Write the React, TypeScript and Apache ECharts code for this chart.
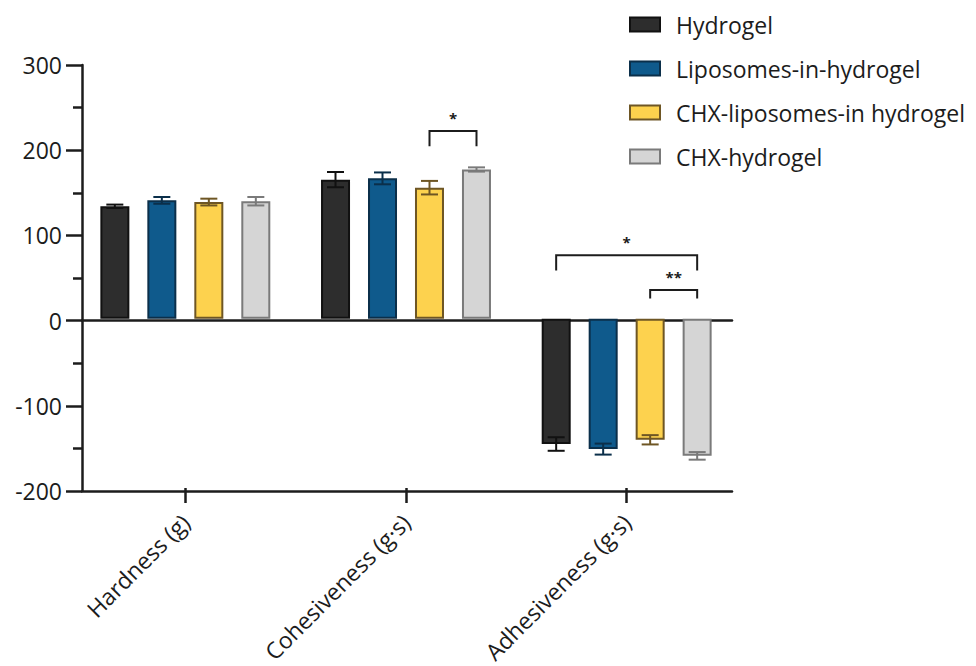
import React, { useEffect, useRef } from "react";
import * as echarts from "echarts";

// Texture profile parameters (rows of the x axis) and formulation groups
const categories = ["Hardness (g)", "Cohesiveness (g·s)", "Adhesiveness (g·s)"];
const groups = ["Hydrogel", "Liposomes-in-hydrogel", "CHX-liposomes-in hydrogel", "CHX-hydrogel"];

// Mean and standard deviation per group, one value per category
const hydrogelMean = [133, 164.5, -148];
const hydrogelSd = [2, 9, 8];
const liposomesMean = [140, 166, -154];
const liposomesSd = [4, 7, 6.5];
const chxLiposomesMean = [138, 155, -143];
const chxLiposomesSd = [4, 8, 5.5];
const chxHydrogelMean = [139, 176.5, -162];
const chxHydrogelSd = [5, 2.5, 4.5];

// Y axis range and step
const yMin = -200;
const yMax = 300;
const yStep = 100;

// Significance brackets: category, first group, second group, bracket level, leg end, marker
const bracketCategory = [1, 2, 2];
const bracketFrom = [2, 0, 2];
const bracketTo = [3, 3, 3];
const bracketTop = [222, 75, 34];
const bracketLeg = [204, 57, 24];
const bracketMark = ["*", "*", "**"];

const means = [hydrogelMean, liposomesMean, chxLiposomesMean, chxHydrogelMean];
const sds = [hydrogelSd, liposomesSd, chxLiposomesSd, chxHydrogelSd];

const FILLS = ["#2d2d2d", "#0f5a8c", "#fdd24e", "#d5d5d5"];
const EDGES = ["#111111", "#0b2f4a", "#6e5624", "#7a7a7a"];
const INK = "#1c1c1c";
const FONT = "'Open Sans', sans-serif";
const BAR_W = 29;
const PITCH = 47;
const CAP = 8.5;

export default function App() {
  const ref = useRef<HTMLDivElement>(null);

  useEffect(() => {
    if (!ref.current) return;
    const chart = echarts.init(ref.current, undefined, { renderer: "svg" });

    const barSeries = groups.map((name, k) => ({
      name,
      type: "bar",
      xAxisIndex: 1,
      yAxisIndex: 1,
      barWidth: BAR_W,
      barGap: "62%",
      z: 2,
      data: means[k],
      itemStyle: { color: FILLS[k], borderColor: EDGES[k], borderWidth: 2 },
    }));

    const errorSeries = groups.map((_, k) => ({
      type: "custom",
      xAxisIndex: 1,
      yAxisIndex: 1,
      z: 4,
      silent: true,
      data: means[k].map((m, c) => [c, m, sds[k][c]]),
      renderItem: (_p: any, api: any) => {
        const c = api.value(0);
        const m = api.value(1);
        const s = api.value(2);
        const hi = api.coord([c, m + s]);
        const lo = api.coord([c, m - s]);
        const x = hi[0] + (k - 1.5) * PITCH;
        const style = { stroke: EDGES[k], lineWidth: 2, fill: "none" };
        return {
          type: "group",
          children: [
            { type: "line", shape: { x1: x, y1: hi[1], x2: x, y2: lo[1] }, style },
            { type: "line", shape: { x1: x - CAP, y1: hi[1], x2: x + CAP, y2: hi[1] }, style },
            { type: "line", shape: { x1: x - CAP, y1: lo[1], x2: x + CAP, y2: lo[1] }, style },
          ],
        };
      },
    }));

    const bracketSeries = {
      type: "custom",
      xAxisIndex: 1,
      yAxisIndex: 1,
      z: 5,
      silent: true,
      data: bracketCategory.map((c, i) => [c, bracketFrom[i], bracketTo[i], bracketTop[i], bracketLeg[i]]),
      renderItem: (p: any, api: any) => {
        const c = api.value(0);
        const a = api.value(1);
        const b = api.value(2);
        const top = api.coord([c, api.value(3)]);
        const leg = api.coord([c, api.value(4)]);
        const xa = top[0] + (a - 1.5) * PITCH;
        const xb = top[0] + (b - 1.5) * PITCH;
        const style = { stroke: INK, lineWidth: 2, fill: "none" };
        return {
          type: "group",
          children: [
            {
              type: "polyline",
              shape: { points: [[xa, leg[1]], [xa, top[1]], [xb, top[1]], [xb, leg[1]]] },
              style,
            },
            {
              type: "text",
              style: {
                x: (xa + xb) / 2,
                y: top[1] - 13,
                text: bracketMark[p.dataIndex],
                fill: INK,
                font: `bold 15px ${FONT}`,
                align: "center",
                verticalAlign: "middle",
              },
            },
          ],
        };
      },
    };

    chart.setOption({
      animation: false,
      grid: [
        { left: 82, top: 65, width: 650, height: 426 },
        { left: 75, top: 65, width: 662, height: 426 },
      ],
      legend: {
        data: groups,
        orient: "vertical",
        left: 624,
        top: 8,
        itemWidth: 30,
        itemHeight: 14,
        itemGap: 21,
        icon: "rect",
        textStyle: { fontSize: 23, fontFamily: FONT, color: INK, padding: [0, 0, 0, 11] },
      },
      xAxis: [
        {
          gridIndex: 0,
          type: "value",
          min: 0,
          max: 1,
          position: "bottom",
          axisLine: { show: true, onZero: false, lineStyle: { color: INK, width: 2.5 } },
          axisTick: { show: false },
          axisLabel: { show: false },
          splitLine: { show: false },
        },
        {
          gridIndex: 1,
          type: "category",
          data: categories,
          position: "bottom",
          axisLine: { show: false, onZero: false },
          axisTick: { show: true, alignWithLabel: true, length: 15, lineStyle: { color: INK, width: 2.5 } },
          axisLabel: {
            interval: 0,
            rotate: 45,
            margin: 30,
            fontSize: 23,
            fontFamily: FONT,
            color: INK,
          },
          splitLine: { show: false },
        },
        {
          gridIndex: 0,
          type: "value",
          min: 0,
          max: 1,
          position: "top",
          axisLine: { show: true, onZero: true, onZeroAxisIndex: 0, lineStyle: { color: INK, width: 2.5 } },
          axisTick: { show: false },
          axisLabel: { show: false },
          splitLine: { show: false },
        },
      ],
      yAxis: [
        {
          gridIndex: 0,
          type: "value",
          min: yMin,
          max: yMax,
          interval: yStep,
          axisLine: { show: true, onZero: false, lineStyle: { color: INK, width: 2.5 } },
          axisTick: { show: true, length: 16, lineStyle: { color: INK, width: 2.5 } },
          minorTick: { show: true, splitNumber: 2, length: 9, lineStyle: { color: INK, width: 2.5 } },
          axisLabel: { margin: 20, fontSize: 23, fontFamily: FONT, color: INK },
          splitLine: { show: false },
        },
        {
          gridIndex: 1,
          type: "value",
          min: yMin,
          max: yMax,
          interval: yStep,
          show: false,
        },
      ],
      series: [...barSeries, ...errorSeries, bracketSeries],
    });

    return () => chart.dispose();
  }, []);

  return (
    <div
      ref={ref}
      style={{ position: "fixed", left: 0, top: 0, width: 976, height: 666, background: "#ffffff" }}
    />
  );
}
